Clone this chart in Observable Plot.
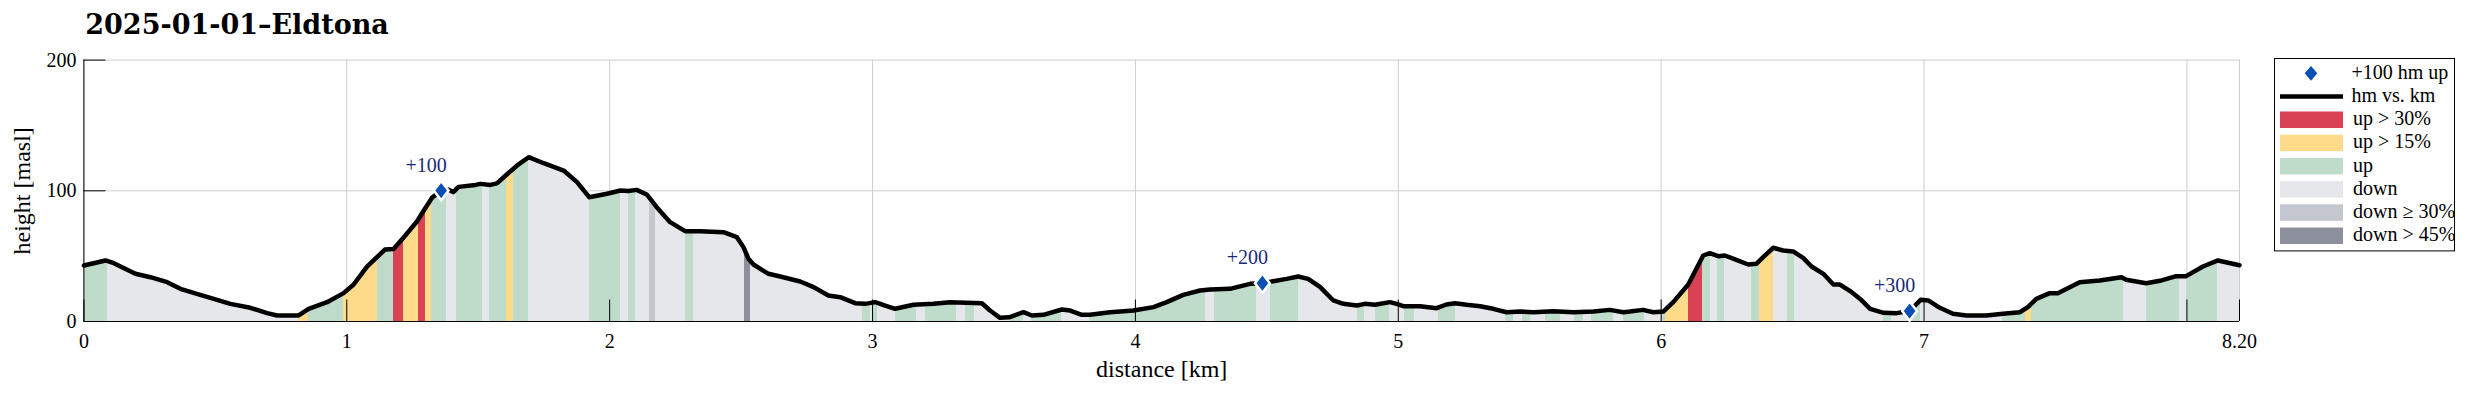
<!DOCTYPE html>
<html>
<head>
<meta charset="utf-8">
<script src="https://cdn.jsdelivr.net/npm/d3@7"></script>
<script src="https://cdn.jsdelivr.net/npm/@observablehq/plot@0.6"></script>
<style>
  html, body { margin: 0; padding: 0; background: white; overflow: hidden; }
  #wrap { position: relative; width: 2475px; height: 393px; }
  #wrap svg { display: block; }
</style>
</head>
<body>
<div id="wrap"></div>
<script>
// ---------- data ----------
const title = "2025-01-01–Eldtona";
const xLabel = "distance [km]";
const yLabel = "height [masl]";

const dist = [0, 0.082, 0.114, 0.196, 0.253, 0.317, 0.367, 0.43, 0.494, 0.557, 0.633, 0.697, 0.735, 0.817, 0.855, 0.925, 0.988, 1.026, 1.077, 1.115, 1.145, 1.178, 1.217, 1.267, 1.293, 1.324, 1.359, 1.385, 1.405, 1.425, 1.49, 1.508, 1.546, 1.571, 1.616, 1.648, 1.692, 1.749, 1.825, 1.876, 1.922, 1.99, 2.041, 2.07, 2.103, 2.141, 2.179, 2.23, 2.287, 2.344, 2.433, 2.484, 2.509, 2.528, 2.547, 2.604, 2.649, 2.725, 2.776, 2.832, 2.877, 2.934, 2.972, 3.01, 3.048, 3.086, 3.156, 3.232, 3.295, 3.358, 3.416, 3.447, 3.485, 3.52, 3.574, 3.606, 3.65, 3.72, 3.752, 3.796, 3.827, 3.904, 3.992, 4.069, 4.119, 4.182, 4.246, 4.284, 4.36, 4.436, 4.483, 4.524, 4.575, 4.619, 4.657, 4.702, 4.753, 4.791, 4.842, 4.873, 4.911, 4.968, 4.994, 5.019, 5.083, 5.146, 5.183, 5.215, 5.26, 5.311, 5.361, 5.412, 5.463, 5.514, 5.59, 5.666, 5.742, 5.805, 5.856, 5.881, 5.931, 5.97, 6.008, 6.046, 6.103, 6.16, 6.185, 6.217, 6.242, 6.286, 6.331, 6.362, 6.388, 6.426, 6.464, 6.502, 6.54, 6.572, 6.617, 6.655, 6.68, 6.725, 6.757, 6.795, 6.846, 6.896, 6.945, 6.987, 7.016, 7.06, 7.11, 7.161, 7.237, 7.3, 7.364, 7.395, 7.427, 7.478, 7.509, 7.592, 7.668, 7.751, 7.769, 7.845, 7.903, 7.96, 7.997, 8.061, 8.118, 8.2];
const elev = [42.8, 46.7, 44.6, 36.5, 33.9, 30.1, 25, 21.2, 17.3, 13.5, 10.5, 6.4, 4.6, 4.6, 9.7, 14.8, 21.7, 28.3, 42, 49.2, 55, 55.5, 64.5, 76.5, 84.9, 94.6, 100.2, 101, 99, 103, 104.5, 105.3, 104.5, 105.7, 113.8, 119.4, 125.7, 121.1, 115.5, 106.6, 95.1, 97.7, 100.2, 99.8, 100.7, 97.2, 87.5, 76, 69.1, 69.1, 68.3, 64.5, 56.9, 48, 43.6, 36.5, 34.4, 30.6, 26.3, 19.9, 18.6, 14, 13.5, 14.8, 12.2, 9.7, 12.8, 13.5, 14.8, 14.3, 14, 8.4, 2.8, 3.2, 7.1, 4.6, 5.1, 9.2, 8.4, 5.1, 5.1, 7.1, 8.4, 11, 14.8, 20.4, 23.7, 24.5, 25, 28.8, 29.3, 30.8, 32.6, 34.4, 32.6, 26.5, 16.1, 13.5, 12.2, 13.5, 12.8, 14.8, 13.5, 11.7, 11.7, 10.2, 13, 14, 12.8, 11.7, 9.7, 7.1, 7.6, 7.1, 7.9, 7.1, 7.6, 8.9, 7.1, 7.6, 8.9, 7.1, 7.6, 14.8, 28.3, 50.5, 52.3, 50, 50.5, 47.2, 43.6, 44.1, 49.2, 56.4, 54.3, 53.6, 48.7, 42.1, 36.5, 28.3, 28.3, 22.4, 17.3, 9.7, 6.6, 6.4, 8, 16.6, 16.1, 10.5, 5.9, 4.6, 4.6, 5.9, 7.1, 11, 17.3, 21.7, 21.7, 30.1, 31.4, 33.9, 31.9, 29.3, 31.4, 34.7, 34.7, 42.1, 46.7, 43];

// gradient classes of the stretches between breakpoints
const segBreaks = [0, 0.089, 0.817, 0.855, 0.988, 1.116, 1.179, 1.214, 1.272, 1.300, 1.324, 1.381, 1.416, 1.516, 1.542, 1.606, 1.636, 1.693, 1.922, 2.042, 2.073, 2.097, 2.152, 2.176, 2.287, 2.319, 2.512, 2.535, 2.962, 2.991, 3.004, 3.02, 3.086, 3.166, 3.2, 3.318, 3.352, 3.386, 3.523, 3.574, 3.606, 3.72, 3.827, 4.265, 4.3, 4.461, 4.514, 4.619, 4.845, 4.873, 4.915, 4.968, 5.023, 5.063, 5.152, 5.219, 5.408, 5.437, 5.471, 5.503, 5.56, 5.617, 5.672, 5.704, 5.735, 5.818, 5.856, 5.938, 6.002, 6.018, 6.103, 6.157, 6.188, 6.214, 6.242, 6.344, 6.374, 6.426, 6.48, 6.508, 6.846, 6.876, 6.951, 6.987, 7.3, 7.387, 7.408, 7.759, 7.845, 7.97, 7.997, 8.118, 8.2];
const segClass = ["up", "down", "up15", "up", "up15", "up", "up30", "up15", "up30", "up15", "up", "down", "up", "down", "up", "up15", "up", "down", "up", "down", "up", "down", "down30", "down", "up", "down", "down45", "down", "up", "down", "up", "down", "up", "down", "up", "down", "up", "down", "up", "down", "up", "down", "up", "down", "up", "down", "up", "down", "up", "down", "up", "down", "up", "down", "up", "down", "up", "down", "up", "down", "up", "down", "up", "down", "up", "down", "up", "down", "up", "up15", "up30", "up", "down", "up", "down", "up", "up15", "down", "up", "down", "up", "down", "up", "down", "up", "up15", "up", "down", "up", "down", "up", "down"];

const classKeys = ["up30", "up15", "up", "down", "down30", "down45"];
const classLabels = ["up > 30%", "up > 15%", "up", "down", "down ≥ 30%", "down > 45%"];
const classColors = ["#d94155", "#fedb8b", "#bfdccb", "#e6e7ea", "#c5c7ce", "#8b909c"];

const markerKm = [1.359, 4.483, 6.945];
const markerH = [100.2, 29.3, 8];
const markerLabels = ["+100", "+200", "+300"];
const markerLegend = "+100 hm up";
const lineLegend = "hm vs. km";

const xTicks = [0, 1, 2, 3, 4, 5, 6, 7, 8, 8.2];
const xTickLabels = ["0", "1", "2", "3", "4", "5", "6", "7", "", "8.20"];
const yTicks = [0, 100, 200];

// ---------- derived tables ----------
const profile = dist.map((d, i) => ({km: d, h: elev[i]}));
function hAt(x) {
  const i = d3.bisectRight(dist, x);
  if (i <= 0) return elev[0];
  if (i >= dist.length) return elev[elev.length - 1];
  const t = (x - dist[i - 1]) / (dist[i] - dist[i - 1]);
  return elev[i - 1] + t * (elev[i] - elev[i - 1]);
}
const segRows = [];
segClass.forEach((cls, k) => {
  const s = segBreaks[k], e = segBreaks[k + 1];
  segRows.push({km: s, h: hAt(s), seg: k, cls});
  dist.forEach((d, i) => { if (d > s && d < e) segRows.push({km: d, h: elev[i], seg: k, cls}); });
  segRows.push({km: e, h: hAt(e), seg: k, cls});
});
const markers = markerKm.map((d, i) => ({km: d, h: markerH[i], label: markerLabels[i]}));

// MATLAB-like tall diamond marker
const diamondShape = (w, h) => ({
  draw(ctx) {
    ctx.moveTo(0, -h);
    ctx.lineTo(w, 0);
    ctx.lineTo(0, h);
    ctx.lineTo(-w, 0);
    ctx.closePath();
  }
});
const tallDiamond = diamondShape(7.4, 9.6);
const legendDiamond = diamondShape(6.3, 7.4);

const serif = "'Liberation Serif', 'Times New Roman', serif";
const markerBlue = "#0b4fb3";
const labelNavy = "#1b2a78";

const chart = Plot.plot({
  width: 2475,
  height: 393,
  marginLeft: 83.4,
  marginRight: 236,
  marginTop: 59.6,
  marginBottom: 72,
  x: {domain: [0, 8.2]},
  y: {domain: [0, 200]},
  color: {domain: classKeys, range: classColors},
  style: {fontFamily: serif, fontSize: "20px", background: "white", overflow: "visible"},
  marks: [
    Plot.gridX(xTicks, {stroke: "#cdcdcd", strokeOpacity: 1, strokeWidth: 1}),
    Plot.gridY([100, 200], {stroke: "#cdcdcd", strokeOpacity: 1, strokeWidth: 1}),
    Plot.area(segRows, {x1: "km", y1: 0, y2: "h", z: "seg", fill: "cls", shapeRendering: "crispEdges"}),
    Plot.ruleX([0], {stroke: "black", strokeWidth: 1}),
    Plot.ruleY([0], {stroke: "black", strokeWidth: 1}),
    Plot.axisX({ticks: xTicks, tickSize: -21.5, tickPadding: 33.5, label: null,
      tickFormat: (d) => xTickLabels[xTicks.indexOf(d)], fontSize: 20, stroke: "black", fill: "black"}),
    Plot.axisY({ticks: yTicks, tickSize: -22, tickPadding: 29.5, label: null, fontSize: 20, stroke: "black", fill: "black"}),
    Plot.line(profile, {x: "km", y: "h", stroke: "black", strokeWidth: 4.5, strokeLinejoin: "round", strokeLinecap: "round"}),
    Plot.dot(markers, {x: "km", y: "h", symbol: tallDiamond, fill: markerBlue, stroke: "white", strokeWidth: 2.5, strokeLinejoin: "miter"}),
    Plot.text(markers, {x: "km", y: "h", text: "label", dx: -15, dy: -19, lineAnchor: "bottom", textAnchor: "middle", fill: labelNavy, fontSize: 20}),
    Plot.text([xLabel], {text: d => d, frameAnchor: "bottom", dy: 55.7, lineAnchor: "bottom", fontSize: 24, fill: "black"}),
    Plot.text([yLabel], {text: d => d, frameAnchor: "left", dx: -62, rotate: -90, lineAnchor: "middle", textAnchor: "middle", fontSize: 24, fill: "black"}),
    Plot.text([title], {text: d => d, frameAnchor: "top-left", textAnchor: "start", lineAnchor: "bottom", dx: 1.4, dy: -26.6,
      fontFamily: "'DejaVu Serif', serif", fontWeight: "bold", fontSize: 27, fill: "black"})
  ]
});
document.getElementById("wrap").appendChild(chart);

// ---------- legend box ----------
const lg = d3.select("#wrap").append("svg")
  .attr("width", 182).attr("height", 195)
  .attr("style", "position:absolute;left:2274px;top:58px;overflow:visible")
  .attr("font-family", serif).attr("font-size", 20);
lg.append("rect").attr("x", 0.5).attr("y", 0.5).attr("width", 180).attr("height", 192.4)
  .attr("fill", "white").attr("stroke", "black").attr("stroke-width", 1);
const rowY = k => 15.3 + 23.2 * k;
lg.append("path").attr("d", d3.symbol(legendDiamond)())
  .attr("transform", `translate(37,${rowY(0)})`).attr("fill", markerBlue);
lg.append("text").attr("x", 77.5).attr("y", rowY(0) + 5.5).text(markerLegend);
lg.append("line").attr("x1", 6).attr("x2", 69).attr("y1", rowY(1)).attr("y2", rowY(1))
  .attr("stroke", "black").attr("stroke-width", 4.5);
lg.append("text").attr("x", 77.5).attr("y", rowY(1) + 5.5).text(lineLegend);
classKeys.forEach((k, i) => {
  const y = rowY(i + 2);
  lg.append("rect").attr("x", 6).attr("y", y - 8.2).attr("width", 63).attr("height", 16.5).attr("fill", classColors[i]);
  lg.append("text").attr("x", 79).attr("y", y + 5.5).text(classLabels[i]);
});
</script>
</body>
</html>
